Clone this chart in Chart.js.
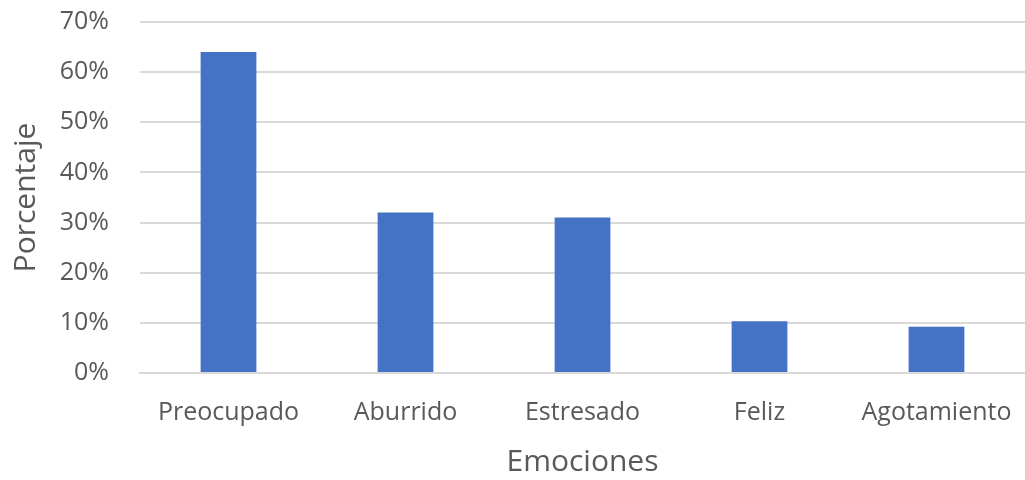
<!DOCTYPE html>
<html>
<head>
<meta charset="utf-8">
<script src="https://cdn.jsdelivr.net/npm/chart.js@4"></script>
<style>
html,body{margin:0;padding:0;background:#fff;}
#wrap{width:1025px;height:480px;}
</style>
</head>
<body>
<div id="wrap"><canvas id="c" width="1025" height="480"></canvas></div>
<script>
const categories = ["Preocupado", "Aburrido", "Estresado", "Feliz", "Agotamiento"];
const values = [0.64, 0.32, 0.31, 0.103, 0.092];
const yTicks = [0, 0.1, 0.2, 0.3, 0.4, 0.5, 0.6, 0.7];

const FONT = "'Open Sans', 'Noto Sans', sans-serif";
const TXT = "#595959";

new Chart(document.getElementById('c'), {
  type: 'bar',
  data: {
    labels: categories,
    datasets: [{
      data: values,
      backgroundColor: '#4472C4',
      borderWidth: 0,
      categoryPercentage: 1.0,
      barPercentage: 0.315
    }]
  },
  options: {
    responsive: false,
    animation: false,
    devicePixelRatio: 1,
    layout: { padding: { top: 22, right: 0, left: 0, bottom: 0 } },
    plugins: { legend: { display: false }, tooltip: { enabled: false } },
    scales: {
      x: {
        grid: { display: false, drawTicks: false },
        border: { display: true, color: '#d9d9d9', width: 2 },
        ticks: { color: TXT, font: { family: FONT, size: 25 }, padding: 25, maxRotation: 0, autoSkip: false },
        title: { display: true, text: 'Emociones', color: TXT, font: { family: FONT, size: 30 }, padding: { top: 6, bottom: 0 } },
        afterFit: s => { s.height = 107; s.paddingLeft = 0; s.paddingRight = 0; }
      },
      y: {
        min: 0, max: 0.7,
        afterBuildTicks: s => { s.ticks = yTicks.map(v => ({ value: v })); },
        grid: { color: '#d9d9d9', lineWidth: 2, drawTicks: false },
        border: { display: false },
        ticks: {
          color: TXT, font: { family: FONT, size: 25 }, padding: 31,
          callback: v => Math.round(v * 100) + '%'
        },
        title: { display: true, text: 'Porcentaje', color: TXT, font: { family: FONT, size: 30 }, padding: { top: 8, bottom: 0 } },
        afterFit: s => { s.width = 140; s.paddingTop = 0; s.paddingBottom = 0; }
      }
    }
  }
});
</script>
</body>
</html>
